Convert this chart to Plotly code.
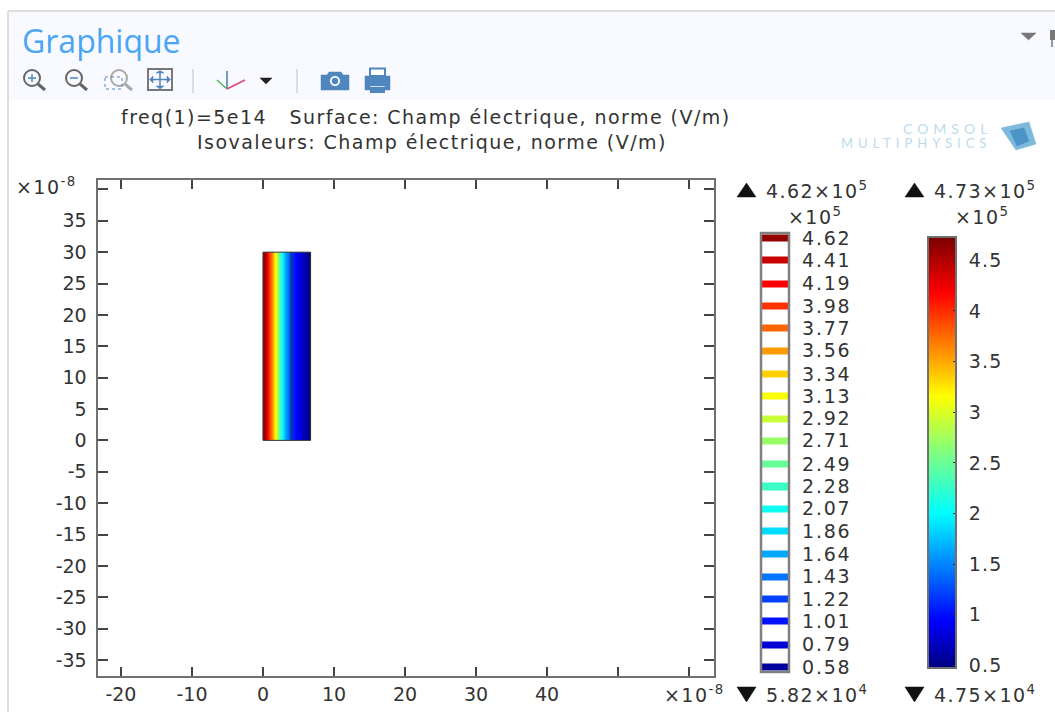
import plotly.graph_objects as go

W, H = 1055, 712

# ---- data (x, y in units of 1e-8 m; field in units of 1e5 V/m) ----
field_x_edges = [0.0, 0.45, 0.9, 1.35, 1.8, 2.25, 2.7, 3.15, 3.6, 4.05, 4.5, 4.95, 5.4, 5.85, 6.3, 6.7]
field_values = [4.6, 4.2, 3.75, 3.25, 2.75, 2.25, 1.85, 1.5, 1.22, 1.05, 0.95, 0.85, 0.7, 0.58, 0.49]
field_y_edges = [0, 30]
isoline_x = [4.0, 4.0]
isoline_y = [0, 30]
iso_levels = [4.62, 4.41, 4.19, 3.98, 3.77, 3.56, 3.34, 3.13, 2.92, 2.71, 2.49,
              2.28, 2.07, 1.86, 1.64, 1.43, 1.22, 1.01, 0.79, 0.58]
surface_min, surface_max = 0.475, 4.73
surface_ticks = [0.5, 1, 1.5, 2, 2.5, 3, 3.5, 4, 4.5]
surface_ticktext = ["0.5", "1", "1.5", "2", "2.5", "3", "3.5", "4", "4.5"]
x_ticks = [-20, -10, 0, 10, 20, 30, 40]
x_ticktext = ["-20", "-10", "0", "10", "20", "30", "40"]
x_unlabelled_ticks = [50, 60]
y_ticks = [-35, -30, -25, -20, -15, -10, -5, 0, 5, 10, 15, 20, 25, 30, 35]
y_ticktext = ["-35", "-30", "-25", "-20", "-15", "-10", "-5", "0", "5", "10", "15", "20", "25", "30", "35"]
y_unlabelled_ticks = [40]
title_lines = ["freq(1)=5e14   Surface: Champ électrique, norme (V/m)",
               "Isovaleurs: Champ électrique, norme (V/m)"]
jet = [[0, "#000080"], [0.11, "#0000ff"], [0.36, "#00ffff"], [0.5, "#80ff80"],
       [0.63, "#ffff00"], [0.87, "#ff0000"], [1, "#7a0000"]]

FONT = "DejaVu Sans"
INK = "#333333"
FRAME = "#707070"


def px(x):
    return x / W


def py(y):
    return 1 - y / H


fig = go.Figure()

# main surface plot
fig.add_trace(go.Heatmap(x=field_x_edges, y=field_y_edges, z=[field_values],
                         coloraxis="coloraxis", zsmooth="best", hoverinfo="skip"))
fig.add_trace(go.Scatter(x=isoline_x, y=isoline_y, mode="lines", hoverinfo="skip",
                         line=dict(color="#0a3494", width=2)))

# isovalue legend: one coloured band for each level, blank between them
band = 0.033
iso_y, iso_z = [], []
for lev in sorted(iso_levels):
    iso_y += [lev - band, lev + band]
    iso_z += [[lev], [None]]
iso_z = iso_z[:-1]
fig.add_trace(go.Heatmap(x=[0, 1], y=iso_y, z=iso_z, xaxis="x2", yaxis="y2",
                         coloraxis="coloraxis", hoverinfo="skip", hoverongaps=False))

shapes = []


def line(x0, y0, x1, y1, color, width=2, dash=None):
    shapes.append(dict(type="line", xref="paper", yref="paper", x0=px(x0), y0=py(y0), x1=px(x1), y1=py(y1),
                       line=dict(color=color, width=width, dash=dash), layer="above"))


def rect(x0, y0, x1, y1, fill="rgba(0,0,0,0)", color="rgba(0,0,0,0)", width=0, dash=None, layer="above"):
    shapes.append(dict(type="rect", xref="paper", yref="paper", x0=px(x0), y0=py(y0), x1=px(x1), y1=py(y1),
                       fillcolor=fill, line=dict(color=color, width=width, dash=dash), layer=layer))


def circle(cx, cy, r, fill="rgba(0,0,0,0)", color="#666666", width=2):
    shapes.append(dict(type="circle", xref="paper", yref="paper", x0=px(cx - r), y0=py(cy - r), x1=px(cx + r), y1=py(cy + r),
                       fillcolor=fill, line=dict(color=color, width=width), layer="above"))


def poly(points, fill, color=None):
    d = "M " + " L ".join(f"{px(a):.5f},{py(b):.5f}" for a, b in points) + " Z"
    shapes.append(dict(type="path", xref="paper", yref="paper", path=d, fillcolor=fill,
                       line=dict(color=color or fill, width=0.5), layer="above"))


# window chrome
rect(9, 12, W, 100, fill="#f9faff", layer="below")
line(8, 11, W, 11, "#dddddd", 2)
line(8, 11, 8, H, "#dddddd", 2)

# toolbar
BLUE = "#4f86bd"
for cx, sign in [(32, "+"), (74, "-")]:
    circle(cx, 78, 8)
    line(cx + 6, 84, cx + 13, 90, "#666666", 3)
    line(cx - 4, 78, cx + 4, 78, BLUE, 1.5)
    if sign == "+":
        line(cx, 74, cx, 82, BLUE, 1.5)
circle(119, 78, 8, color="#aaaaaa")
line(125, 84, 132, 90, "#aaaaaa", 3)
rect(105, 77, 122, 89, color=BLUE, width=1, dash="dot")
rect(148, 69, 172, 90, color="#777777", width=2)
line(152, 79.5, 168, 79.5, BLUE, 1.5)
line(160, 73, 160, 86, BLUE, 1.5)
poly([(156, 73), (164, 73), (160, 70.5)], BLUE)
poly([(156, 86), (164, 86), (160, 89)], BLUE)
poly([(153, 76), (153, 83), (149.5, 79.5)], BLUE)
poly([(167, 76), (167, 83), (170.5, 79.5)], BLUE)
line(193, 69, 193, 93, "#dddddd", 2)
line(227, 89, 227, 71, "#3f7fb5", 1.5)
line(227, 89, 245, 80, "#e8417c", 1.5)
line(227, 89, 217, 80, "#59b35a", 1.5)
poly([(260, 78), (272, 78), (266, 84)], "#222222")
line(297, 69, 297, 93, "#dddddd", 2)
poly([(321, 75), (327, 75), (329, 72), (341, 72), (343, 75), (349, 75), (349, 90), (321, 90)], BLUE)
circle(335, 81, 5.5, fill="#ffffff", color=BLUE, width=1)
circle(335, 81, 3.2, fill=BLUE, color=BLUE, width=0)
rect(370, 68.5, 385, 76, fill="#ffffff", color=BLUE, width=2)
poly([(365, 76), (390, 76), (390, 90), (385, 90), (385, 86), (370, 86), (370, 90), (365, 90)], BLUE)
rect(370, 87, 385, 93, fill=BLUE)
poly([(1021, 33), (1036, 33), (1028.5, 40)], "#777777")
rect(1050, 30, 1055, 40, fill="#777777")
line(1052, 40, 1052, 47, "#999999", 2)

# logo cube
poly([(1001, 128), (1029, 122), (1036, 144), (1016, 150)], "#7cb9dd")
poly([(1010, 131), (1024, 128), (1029, 141), (1017, 146)], "#4a94c8")

# rectangle outline of the geometry, in data coordinates
shapes.append(dict(type="rect", xref="x", yref="y", x0=field_x_edges[0], x1=field_x_edges[-1],
                   y0=field_y_edges[0], y1=field_y_edges[1], line=dict(color="#333333", width=1), layer="above"))
# frame of isovalue legend
rect(761, 233, 789, 672, color="#808080", width=2.5)

# max / min markers
for x0 in (737, 905):
    poly([(x0, 197), (x0 + 19, 197), (x0 + 9.5, 183)], "#111111")
    poly([(x0, 687), (x0 + 19, 687), (x0 + 9.5, 702)], "#111111")

ann = []


def text(x, y, s, size=19, anchor="left", color=INK, family=FONT):
    ann.append(dict(xref="paper", yref="paper", x=px(x), y=py(y), text=s, showarrow=False,
                    xanchor=anchor, yanchor="middle", align=anchor,
                    font=dict(family=family, size=size, color=color)))


text(20, 40, "Graphique", size=32, color="#4aa5f5", family="Open Sans")
text(119, 117, title_lines[0])
text(195, 142, title_lines[1])
text(901, 128, "COMSOL", size=14, color="#bcdcec", family="Lato")
text(839, 143, "MULTIPHYSICS", size=13, color="#bcdcec", family="Lato")
text(14, 186, "×10<sup>-8</sup>")
text(662, 694, "×10<sup>-8</sup>")
text(764, 190, "4.62×10<sup>5</sup>")
text(932, 190, "4.73×10<sup>5</sup>")
text(786, 216, "×10<sup>5</sup>")
text(953, 216, "×10<sup>5</sup>")
text(764, 694, "5.82×10<sup>4</sup>")
text(932, 694, "4.75×10<sup>4</sup>")

TICK = dict(ticks="inside", tickwidth=1.5, tickcolor="#444444", showline=True, linecolor=FRAME,
            linewidth=2, mirror="ticks", showgrid=False, zeroline=False)

fig.update_layout(
    width=W, height=H, margin=dict(l=0, r=0, t=0, b=0, autoexpand=False), autosize=False,
    paper_bgcolor="#ffffff", plot_bgcolor="rgba(0,0,0,0)", showlegend=False,
    font=dict(family=FONT, size=19, color=INK),
    shapes=shapes, annotations=ann,
    xaxis=dict(domain=[px(97.5), px(714)], range=[-23.3, 63.5], tickvals=x_ticks, ticktext=x_ticktext,
               ticklen=9, ticklabelstandoff=0, anchor="y",
               minor=dict(tickvals=x_unlabelled_ticks, ticks="inside", ticklen=9, tickwidth=1.5, tickcolor="#444444"),
               **TICK),
    yaxis=dict(domain=[py(676), py(180)], range=[-37.55, 41.5], tickvals=y_ticks, ticktext=y_ticktext,
               ticklen=10, ticklabelstandoff=5, anchor="x",
               minor=dict(tickvals=y_unlabelled_ticks, ticks="inside", ticklen=10, tickwidth=1.5, tickcolor="#444444"),
               **TICK),
    xaxis2=dict(domain=[px(761), px(789)], range=[0, 1], visible=False, anchor="y2"),
    yaxis2=dict(domain=[py(672), py(233)], range=[0.533, 4.667], side="right", tickvals=iso_levels,
                ticktext=[f"{v:.2f}" for v in iso_levels], ticks="", showgrid=False, zeroline=False,
                ticklabelstandoff=12, anchor="x2", showline=False),
    coloraxis=dict(cmin=surface_min, cmax=surface_max, colorscale=jet,
                   colorbar=dict(x=px(928), xanchor="left", xpad=0, ypad=0, y=py(237), yanchor="top",
                                 lenmode="pixels", len=431, thicknessmode="pixels", thickness=28,
                                 tickvals=surface_ticks, ticktext=["\u00a0" + t for t in surface_ticktext],
                                 ticks="inside", ticklen=4,
                                 tickcolor="#333333", outlinecolor=FRAME, outlinewidth=2, borderwidth=0,
                                 tickfont=dict(family=FONT, size=19, color=INK))),
)

# The reference's raster text is wider than DejaVu's natural spacing; the redraw
# makes Plotly measure the text again with the spacing applied.
post = """
document.body.style.margin='0';
document.body.style.overflow='hidden';
var st=document.createElement('style');
st.textContent='.annotation-text[style*="DejaVu"]{letter-spacing:1.45px}'
 +'.annotation-text[style*="Lato"]{letter-spacing:5px}'
 +'.y2tick text{letter-spacing:1.8px}.colorbar text{letter-spacing:1.3px}';
document.head.appendChild(st);
return Plotly.redraw(document.getElementById('{plot_id}'));
"""
fig.write_html("out.html", config={"displayModeBar": False}, post_script=post)
